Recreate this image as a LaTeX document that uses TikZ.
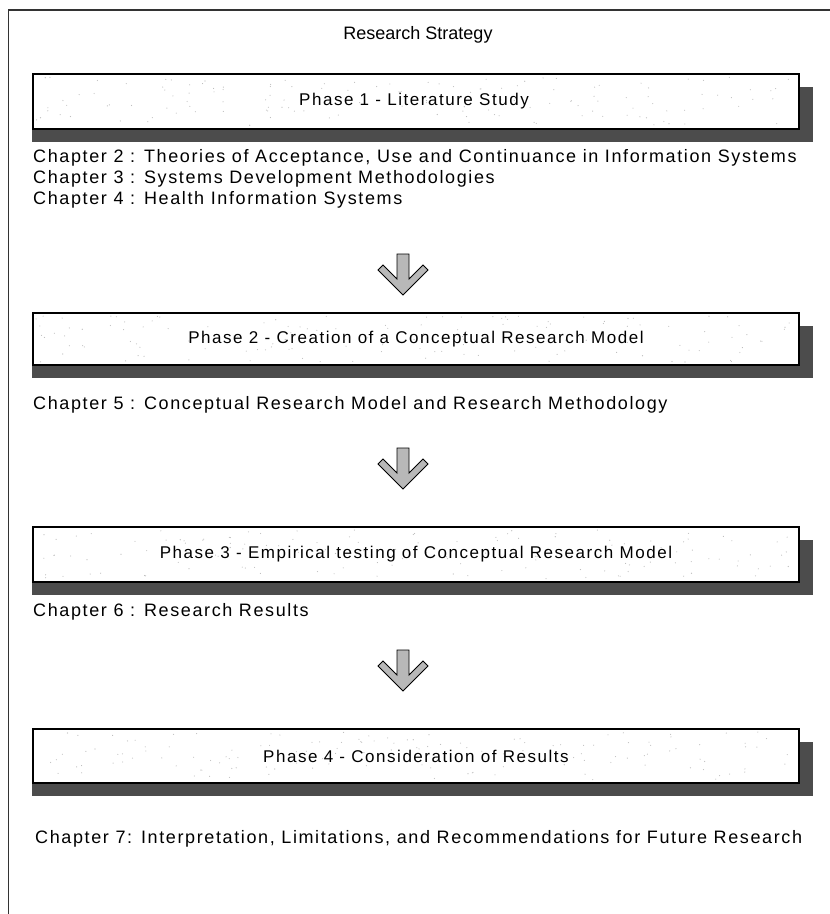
\documentclass[tikz,border=0pt]{standalone}
\usepackage{fontspec}
\setmainfont{Liberation Sans}
\usetikzlibrary{backgrounds}

\definecolor{shadowgray}{gray}{0.30}
\definecolor{arrowgray}{gray}{0.72}

\tikzset{
  chapter/.style={anchor=west, inner sep=0pt,
    font=\fontsize{18}{21}\selectfont\addfontfeature{LetterSpace=9}},
  phase/.style={draw=black, line width=1.3pt, fill=white,
    minimum width=766pt, inner sep=0pt,
    font=\fontsize{17}{20}\selectfont\addfontfeature{LetterSpace=9}},
  phaselabel/.style={phase, draw=none, fill=none},
  titletext/.style={inner sep=0pt, font=\fontsize{18}{21}\selectfont},
  frameline/.style={line width=1.4pt, draw=black!80},
  shade/.style={fill=shadowgray},
  blockarrow/.pic={
    \draw[line width=0.9pt, fill=arrowgray, line join=miter]
      (-6,0) -- (6,0) -- (6,25) -- (20,11) -- (25,16) -- (0,41)
      -- (-25,16) -- (-20,11) -- (-6,25) -- cycle;
  }
}

% speckle texture inside a box: #1 = left x, #2 = top y, #3 = width, #4 = height
\newcommand{\speckle}[4]{%
  \foreach \k in {1,...,140}{%
    \pgfmathsetmacro{\px}{#1+3+rnd*(#3-6)}%
    \pgfmathsetmacro{\py}{#2+3+rnd*(#4-6)}%
    \fill[gray!55] (\px,\py) circle (0.55pt);
  }%
}

\begin{document}
\begin{tikzpicture}[x=1pt, y=-1pt]
  \useasboundingbox (0,0) rectangle (830,914);
  \pgfmathsetseed{11}

  % outer frame: top rule and left rule
  \coordinate (fa) at (8.5,10);
  \coordinate (fb) at (830,10);
  \coordinate (fc) at (8.5,914);
  \draw[frameline] (fb) -- (fa) -- (fc);

  \node[titletext] (title) at (418,35) {Research Strategy};

  % phase boxes
  \node[phase, minimum height=55pt] (p1) at (416,101.5) {};
  \node[phase, minimum height=52pt] (p2) at (416,339) {};
  \node[phase, minimum height=55pt] (p3) at (416,554.5) {};
  \node[phase, minimum height=54pt] (p4) at (416,756) {};

  \begin{scope}[on background layer]
    \foreach \b in {p1,p2,p3,p4}{
      \fill[shade] (\b.south west) rectangle ([xshift=13pt,yshift=-12pt]\b.south east);
      \fill[shade] ([yshift=-14pt]\b.north east) rectangle ([xshift=13pt]\b.south east);
    }
  \end{scope}
  \speckle{33}{74}{766}{55}
  \speckle{33}{313}{766}{52}
  \speckle{33}{527}{766}{55}
  \speckle{33}{729}{766}{54}
  \node[phaselabel] (t1) at (414,101.5) {Phase 1 - Literature Study};
  \node[phaselabel] (t2) at (416,339) {Phase 2 - Creation of a Conceptual Research Model};
  \node[phaselabel] (t3) at (416,554.5) {Phase 3 - Empirical testing of Conceptual Research Model};
  \node[phaselabel] (t4) at (416,756) {Phase 4 - Consideration of Results};

  % chapter lists
  \node[chapter] (c2) at (33,158) {Chapter 2 : Theories of Acceptance, Use and Continuance in Information Systems};
  \node[chapter] (c3) at (33,179) {Chapter 3 : Systems Development Methodologies};
  \node[chapter] (c4) at (33,199.5) {Chapter 4 : Health Information Systems};
  \node[chapter] (c5) at (33,405) {Chapter 5 : Conceptual Research Model and Research Methodology};
  \node[chapter] (c6) at (33,612) {Chapter 6 : Research Results};
  \node[chapter] (c7) at (35,839) {Chapter 7: Interpretation, Limitations, and Recommendations for Future Research};

  % block arrows between the phases
  \pic at (403,254) {blockarrow};
  \pic at (403,448) {blockarrow};
  \pic at (403,650) {blockarrow};
\end{tikzpicture}
\end{document}
